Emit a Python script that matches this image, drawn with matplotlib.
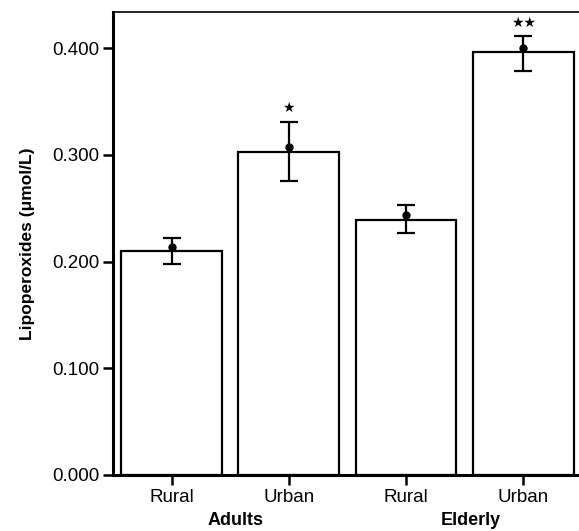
import matplotlib
matplotlib.use('Agg')
from matplotlib import pyplot as plt

# values
groups = ['Rural', 'Urban', 'Rural', 'Urban']
age_groups = ['Adults', 'Elderly']
bar_heights = [0.210, 0.303, 0.239, 0.396]
means = [0.214, 0.307, 0.244, 0.400]
err_upper = [0.222, 0.331, 0.253, 0.411]
err_lower = [0.198, 0.276, 0.2265, 0.379]
stars = ['', '\u2605', '', '\u2605\u2605']

plt.rcParams['font.family'] = ['Liberation Sans', 'DejaVu Sans']

fig = plt.figure(figsize=(5.79, 5.31), dpi=100)
ax = fig.add_axes([0.195, 0.1055, 0.81, 0.872])

x = list(range(len(groups)))
ax.bar(x, bar_heights, width=0.86, color='white', edgecolor='black', linewidth=1.6, zorder=2)
yerr = [[m - lo for m, lo in zip(means, err_lower)], [hi - m for m, hi in zip(means, err_upper)]]
ax.errorbar(x, means, yerr=yerr, fmt='o', color='black', markersize=5,
            elinewidth=1.6, capsize=6.5, capthick=1.6, zorder=3)
for xi, hi, s in zip(x, err_upper, stars):
    if s:
        ax.text(xi, hi + 0.013, s, ha='center', va='center', fontsize=10,
                family='DejaVu Sans')

ax.set_xlim(-0.5, 3.5)
ax.set_ylim(0, 0.434)
ax.set_yticks([0.0, 0.1, 0.2, 0.3, 0.4])
ax.set_yticklabels(['0.000', '0.100', '0.200', '0.300', '0.400'], fontsize=13.5)
ax.set_xticks(x)
ax.set_xticklabels(groups, fontsize=13.5)
ax.tick_params(direction='out', length=7, width=1.8, pad=3)

ax.spines['right'].set_visible(False)
ax.spines['left'].set_linewidth(2.2)
ax.spines['bottom'].set_linewidth(2.2)
ax.spines['top'].set_linewidth(1.2)

ax.set_ylabel('Lipoperoxides (\u03bcmol/L)', fontsize=12.5, fontweight='bold', labelpad=12)
ax.text(0.55, -0.098, age_groups[0], transform=ax.get_xaxis_transform(), ha='center', va='center',
        fontsize=13, fontweight='bold')
ax.text(2.55, -0.098, age_groups[1], transform=ax.get_xaxis_transform(), ha='center', va='center',
        fontsize=13, fontweight='bold')

fig.savefig('out.png', dpi=100)
